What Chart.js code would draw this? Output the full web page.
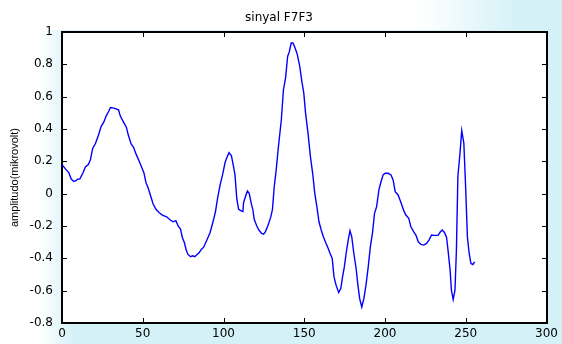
<!DOCTYPE html>
<html>
<head>
<meta charset="utf-8">
<script src="https://cdn.jsdelivr.net/npm/chart.js@4.4.1/dist/chart.umd.min.js"></script>
<style>
  html, body { margin: 0; padding: 0; }
  body {
    width: 562px; height: 344px; overflow: hidden;
    background-color: #d3f1f7;
    background-image:
      linear-gradient(to right, #ffffff 0px, #ffffff 420px, rgba(255,255,255,0) 520px),
      linear-gradient(to right, #ffffff 0px, #ffffff 40px, rgba(255,255,255,0) 75px);
    background-size: 562px 30px, 562px 344px;
    background-position: 0 0, 0 0;
    background-repeat: no-repeat;
  }
  #wrap { position: relative; width: 562px; height: 344px; }
</style>
</head>
<body>
<div id="wrap"><canvas id="signal-chart" width="562" height="344"></canvas></div>
<script>
// Signal samples (sample index, amplitude)
const sampleIndex = [
  0, 2.4, 4.2, 5.7, 7.3, 8.6, 9.7, 11, 12.8, 14.5, 16.3, 17.6, 19, 20.7, 22.5, 24.2, 26, 27.3, 28.7, 30,
  32.2, 35, 36.1, 37.9, 39.9, 41, 42.8, 44.3, 45.8, 47.6, 49.2, 50.7, 52, 53.3, 54.7, 56.4, 58.2, 60.2, 62.4, 64.8,
  67, 68.8, 70.5, 71.9, 73.4, 74.5, 75.8, 76.9, 78, 79.6, 80.9, 82.2, 83.5, 85, 86.2, 87.7, 89.5, 91.7, 93.5, 95,
  96.5, 97.9, 99.4, 101, 102.3, 103.4, 104.9, 106, 107.1, 108.2, 109.3, 110.6, 112, 112.4, 113.7, 114.8, 115.9, 117.3, 118.1, 119,
  120.6, 121.9, 123.6, 124.8, 125.9, 127.4, 129.2, 130.3, 131.4, 132.5, 134, 135.8, 137.1, 138.4, 139.7, 140.8, 141.9, 143, 144.4, 145.7,
  147.2, 148.6, 149.7, 150.8, 152.3, 153.8, 155.2, 156.5, 157.8, 159.1, 160.5, 161.8, 163.3, 164.4, 166, 167.3, 168.4, 169.7, 171.3, 172.6,
  173.7, 174.8, 175.9, 177.2, 178.3, 179.4, 180.7, 182.1, 183.2, 184.3, 185.6, 186.9, 188.2, 189.6, 190.9, 192.2, 193.5, 194.8, 196.2, 197.5,
  198.8, 200.1, 201.9, 203.7, 205, 206.3, 208.1, 209.9, 211.6, 212.9, 214.7, 216, 217.8, 219.1, 220.6, 222.2, 224, 225.7, 227.2, 228.8,
  230.5, 232.8, 234.3, 235.4, 236.8, 238.1, 239, 240.3, 241.1, 242.2, 243.3, 244.2, 245.1, 246.4, 247.5, 248.8, 249.9, 251, 252.1, 253.2,
  254.4, 255.5
];
const amplitude = [
  0.18, 0.15, 0.13, 0.09, 0.075, 0.08, 0.09, 0.09, 0.125, 0.165, 0.18, 0.21, 0.28, 0.31, 0.36, 0.415, 0.445, 0.48, 0.505, 0.533,
  0.529, 0.519, 0.48, 0.446, 0.41, 0.364, 0.308, 0.287, 0.246, 0.205, 0.167, 0.13, 0.068, 0.037, -0.008, -0.064, -0.097, -0.118, -0.134, -0.143,
  -0.163, -0.174, -0.167, -0.2, -0.219, -0.271, -0.304, -0.349, -0.376, -0.39, -0.384, -0.39, -0.378, -0.364, -0.345, -0.331, -0.291, -0.24, -0.174, -0.112,
  -0.019, 0.054, 0.116, 0.194, 0.229, 0.254, 0.234, 0.178, 0.116, -0.029, -0.095, -0.105, -0.11, -0.056, -0.014, 0.017, 0.002, -0.066, -0.095, -0.159,
  -0.2, -0.225, -0.246, -0.25, -0.236, -0.2, -0.147, -0.097, 0.043, 0.136, 0.291, 0.457, 0.643, 0.715, 0.849, 0.88, 0.932, 0.932, 0.9, 0.86,
  0.787, 0.688, 0.622, 0.498, 0.374, 0.229, 0.126, 0.002, -0.08, -0.174, -0.225, -0.267, -0.304, -0.329, -0.37, -0.401, -0.515, -0.566, -0.612, -0.587,
  -0.515, -0.453, -0.37, -0.287, -0.229, -0.267, -0.37, -0.463, -0.566, -0.649, -0.701, -0.649, -0.566, -0.453, -0.329, -0.246, -0.122, -0.08, 0.023, 0.074,
  0.116, 0.126, 0.126, 0.116, 0.085, 0.012, -0.008, -0.056, -0.105, -0.132, -0.153, -0.205, -0.236, -0.256, -0.298, -0.314, -0.318, -0.308, -0.287, -0.256,
  -0.258, -0.258, -0.236, -0.225, -0.24, -0.271, -0.349, -0.473, -0.597, -0.655, -0.597, -0.349, 0.105, 0.25, 0.39, 0.312, 0.043, -0.267, -0.37, -0.432,
  -0.438, -0.422
];

// Axis settings
const xTicks = [0, 50, 100, 150, 200, 250, 300];
const yTicks = [-0.8, -0.6, -0.4, -0.2, 0, 0.2, 0.4, 0.6, 0.8, 1];
const chartTitle = "sinyal F7F3";
const yLabel = "amplitudo(mikrovolt)";

const points = sampleIndex.map((x, i) => ({ x: x, y: amplitude[i] }));

// White plot box, black frame and inward ticks on all four sides (matlab style).
// Drawn with filled rects only.
const axesBox = {
    id: "axesBox",
    beforeDatasetsDraw(chart) {
        const a = chart.chartArea;
        const c = chart.ctx;
        const xs = chart.scales.x;
        const ys = chart.scales.y;
        const len = 5;
        const L = Math.round(a.left), R = Math.round(a.right);
        const T = Math.round(a.top), B = Math.round(a.bottom);
        c.save();
        c.globalAlpha = 1;
        c.globalCompositeOperation = "source-over";
        c.fillStyle = "#ffffff";
        c.fillRect(L, T, R - L, B - T);
        c.fillStyle = "#000000";
        // frame
        c.fillRect(L - 1, T - 1, R - L + 2, 2);
        c.fillRect(L - 1, B - 1, R - L + 2, 2);
        c.fillRect(L - 1, T - 1, 2, B - T + 2);
        c.fillRect(R - 1, T - 1, 2, B - T + 2);
        // ticks
        xTicks.forEach(v => {
            const px = Math.round(xs.getPixelForValue(v));
            c.fillRect(px, B - len, 1, len);
            c.fillRect(px, T, 1, len);
        });
        yTicks.forEach(v => {
            const py = Math.round(ys.getPixelForValue(v));
            c.fillRect(L, py, len, 1);
            c.fillRect(R - len, py, len, 1);
        });
        c.restore();
    }
};

document.addEventListener("DOMContentLoaded", () => {
    const ctx = document.getElementById("signal-chart").getContext("2d");

    new Chart(ctx, {
        type: "line",
        data: {
            datasets: [{
                data: points,
                borderColor: "#0000ff",
                borderWidth: 1.4,
                pointRadius: 0,
                tension: 0,
                fill: false,
            }]
        },
        options: {
            responsive: false,
            animation: false,
            layout: { padding: { left: 8, right: 12, top: 0, bottom: 0 } },
            plugins: {
                legend: { display: false },
                tooltip: { enabled: false },
                title: {
                    display: true,
                    text: chartTitle,
                    color: "#000000",
                    font: { family: "'DejaVu Sans', sans-serif", size: 12, weight: "normal", lineHeight: 1.2 },
                    padding: { top: 11, bottom: 6.6 },
                },
            },
            scales: {
                x: {
                    type: "linear",
                    min: 0,
                    max: 300,
                    afterBuildTicks: (scale) => { scale.ticks = xTicks.map(v => ({ value: v })); },
                    afterFit: (scale) => { scale.height = 21; },
                    grid: { display: false, drawTicks: false },
                    border: { display: false },
                    ticks: {
                        color: "#000000",
                        padding: 4,
                        maxRotation: 0,
                        autoSkip: false,
                        font: { family: "'DejaVu Sans', sans-serif", size: 12 },
                    },
                },
                y: {
                    min: -0.8,
                    max: 1,
                    afterBuildTicks: (scale) => { scale.ticks = yTicks.map(v => ({ value: v })); },
                    afterFit: (scale) => { scale.width = 54; },
                    grid: { display: false, drawTicks: false },
                    border: { display: false },
                    title: {
                        display: true,
                        text: yLabel,
                        color: "#000000",
                        padding: 0,
                        font: { family: "'Liberation Sans', Arial, sans-serif", size: 11 },
                    },
                    ticks: {
                        color: "#000000",
                        padding: 9,
                        autoSkip: false,
                        callback: (v) => String(Math.round(v * 10) / 10),
                        font: { family: "'DejaVu Sans', sans-serif", size: 12 },
                    },
                },
            },
        },
        plugins: [axesBox],
    });
});
</script>
</body>
</html>
